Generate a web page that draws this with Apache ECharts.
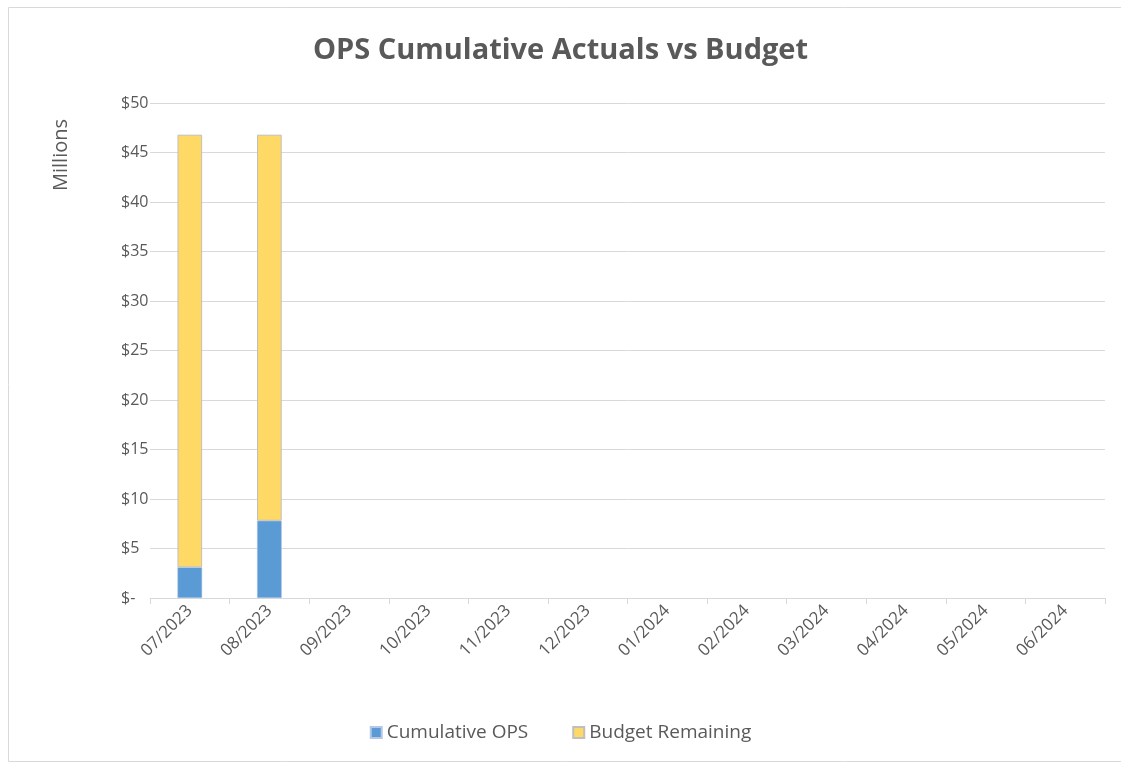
<!DOCTYPE html>
<html><head><meta charset="utf-8">
<script src="https://cdn.jsdelivr.net/npm/echarts@6/dist/echarts.min.js"></script>
<style>html,body{margin:0;padding:0;background:#fff}#c{width:1121px;height:765px}</style>
</head><body><div id="c"></div>
<script>
const categories = ['07/2023','08/2023','09/2023','10/2023','11/2023','12/2023','01/2024','02/2024','03/2024','04/2024','05/2024','06/2024'];
const cumulativeOps = [3.1, 7.8, null, null, null, null, null, null, null, null, null, null];
const budgetRemaining = [43.7, 39.0, null, null, null, null, null, null, null, null, null, null];
const yTicks = [0, 5, 10, 15, 20, 25, 30, 35, 40, 45, 50];

const chart = echarts.init(document.getElementById('c'));
const font = '"Open Sans", "Noto Sans", sans-serif';
chart.setOption({
  animation: false,
  graphic: [
    {type:'rect', shape:{x:8.5,y:7.5,width:1130,height:754}, style:{fill:'none', stroke:'#d9d9d9', lineWidth:1}},
    {type:'text', x:61, y:155, rotation:Math.PI/2,
      style:{text:'Millions', fontFamily:font, fontSize:20, fill:'#595959', align:'center', verticalAlign:'middle'}}
  ],
  title: {text:'OPS Cumulative Actuals vs Budget', left:'center', top:31,
    textStyle:{fontFamily:font, fontSize:29, fontWeight:'bold', color:'#595959'}},
  legend: {bottom:18, left:'center', itemWidth:11, itemHeight:11, itemGap:44, icon:'rect',
    textStyle:{fontFamily:font, fontSize:19, color:'#595959'},
    data:['Cumulative OPS','Budget Remaining']},
  grid: {left:150, right:16, top:103, bottom:167, containLabel:false},
  xAxis: {type:'category', data:categories, boundaryGap:true,
    axisLine:{lineStyle:{color:'#d9d9d9'}},
    axisTick:{show:true, alignWithLabel:false, length:6, lineStyle:{color:'#d9d9d9'}},
    axisLabel:{rotate:45, fontFamily:font, fontSize:17, color:'#595959', margin:10}},
  yAxis: {type:'value', min:0, max:50, interval:5,
    axisLine:{show:false}, axisTick:{show:false},
    splitLine:{lineStyle:{color:'#d9d9d9'}},
    axisLabel:{fontFamily:font, fontSize:16, color:'#595959', align:'left', margin:29,
      formatter: v => yTicks.indexOf(v) >= 0 ? (v === 0 ? '$-' : '$' + v) : ''}},
  series: [
    {name:'Cumulative OPS', type:'bar', stack:'t', data:cumulativeOps, barWidth:'31%',
      itemStyle:{color:'#5b9bd5', borderColor:'#b4c7e7', borderWidth:0.5}},
    {name:'Budget Remaining', type:'bar', stack:'t', data:budgetRemaining, barWidth:'31%',
      itemStyle:{color:'#ffd966', borderColor:'#bfbfbf', borderWidth:1}}
  ]
});
</script></body></html>
